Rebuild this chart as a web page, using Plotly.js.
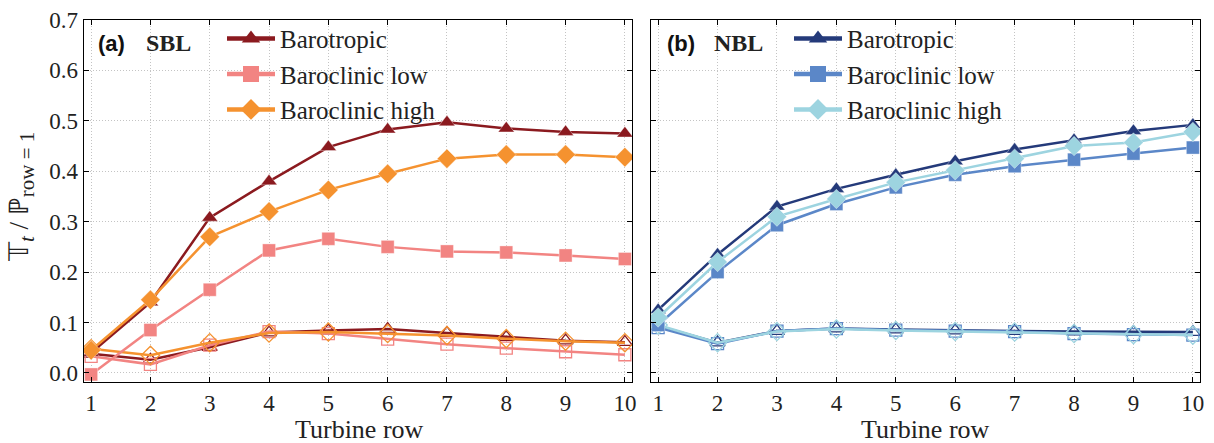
<!DOCTYPE html>
<html>
<head>
<meta charset="utf-8">
<script src="https://cdn.plot.ly/plotly-3.0.1.min.js"></script>
<style>html,body{margin:0;padding:0;background:#fff;}#chart{width:1214px;height:443px;}</style>
</head>
<body>
<div id="chart"></div>
<script>
// ---------- data ----------
const rows = [1, 2, 3, 4, 5, 6, 7, 8, 9, 10];
const seriesNames = ["Barotropic", "Baroclinic low", "Baroclinic high"];

// (a) SBL — filled markers
const sblBarotropic     = [0.040, 0.140, 0.308, 0.380, 0.448, 0.483, 0.497, 0.485, 0.478, 0.475];
const sblBaroclinicLow  = [-0.003, 0.085, 0.165, 0.243, 0.266, 0.250, 0.241, 0.239, 0.233, 0.226];
const sblBaroclinicHigh = [0.045, 0.145, 0.270, 0.320, 0.363, 0.395, 0.425, 0.433, 0.433, 0.428];
// (a) SBL — open markers
const sblBarotropicOpen     = [0.038, 0.026, 0.051, 0.080, 0.084, 0.087, 0.079, 0.071, 0.064, 0.061];
const sblBaroclinicLowOpen  = [0.033, 0.017, 0.055, 0.082, 0.078, 0.067, 0.057, 0.049, 0.042, 0.036];
const sblBaroclinicHighOpen = [0.048, 0.035, 0.060, 0.079, 0.081, 0.078, 0.074, 0.068, 0.063, 0.060];

// (b) NBL — filled markers
const nblBarotropic     = [0.125, 0.235, 0.330, 0.365, 0.393, 0.420, 0.443, 0.462, 0.480, 0.492];
const nblBaroclinicLow  = [0.095, 0.200, 0.293, 0.335, 0.368, 0.393, 0.410, 0.423, 0.435, 0.447];
const nblBaroclinicHigh = [0.110, 0.220, 0.310, 0.345, 0.378, 0.402, 0.425, 0.450, 0.457, 0.478];
// (b) NBL — open markers
const nblBarotropicOpen     = [0.093, 0.060, 0.083, 0.088, 0.086, 0.084, 0.083, 0.082, 0.081, 0.081];
const nblBaroclinicLowOpen  = [0.090, 0.058, 0.083, 0.088, 0.085, 0.083, 0.082, 0.078, 0.076, 0.075];
const nblBaroclinicHighOpen = [0.095, 0.060, 0.082, 0.087, 0.084, 0.082, 0.081, 0.078, 0.076, 0.075];

const yTickVals = [0, 0.1, 0.2, 0.3, 0.4, 0.5, 0.6, 0.7];

// ---------- style ----------
const serif = "Liberation Serif";
const sans = "Liberation Sans";
const sblColors = ["#8B1A1F", "#F28482", "#F5922F"];
const nblColors = ["#243A7A", "#5B87C8", "#9DD4E0"];
const symbols = ["triangle-up", "square", "diamond"];
const sizes = [14, 13, 15];

function filled(y, i, color, xa, ya) {
  return {
    x: rows, y: y, type: "scatter", mode: "lines+markers", name: seriesNames[i],
    xaxis: xa, yaxis: ya, showlegend: false,
    line: {color: color, width: 2.5},
    marker: {symbol: symbols[i], size: sizes[i], color: color, line: {color: "rgba(255,255,255,0.6)", width: 0.6}}
  };
}
function open(y, i, color, xa, ya) {
  return {
    x: rows, y: y, type: "scatter", mode: "lines+markers", name: seriesNames[i] + " (open)",
    xaxis: xa, yaxis: ya, showlegend: false,
    line: {color: color, width: 2.5},
    marker: {symbol: symbols[i] + "-open", size: sizes[i] - 1, color: color, line: {color: color, width: 1.3}}
  };
}
// legend-only entries (no data drawn), so the key can use a thicker line like the original
function key(i, color, xa, ya, legend) {
  return {
    x: [null], y: [null], type: "scatter", mode: "lines+markers", name: seriesNames[i],
    xaxis: xa, yaxis: ya, legend: legend, showlegend: true, hoverinfo: "skip",
    line: {color: color, width: 4.5},
    marker: {symbol: symbols[i], size: 16, color: color}
  };
}

const sblFilled = [sblBarotropic, sblBaroclinicLow, sblBaroclinicHigh];
const sblOpen = [sblBarotropicOpen, sblBaroclinicLowOpen, sblBaroclinicHighOpen];
const nblFilled = [nblBarotropic, nblBaroclinicLow, nblBaroclinicHigh];
const nblOpen = [nblBarotropicOpen, nblBaroclinicLowOpen, nblBaroclinicHighOpen];

const traces = [];
for (let i = 0; i < 3; i++) traces.push(open(sblOpen[i], i, sblColors[i], "x", "y"));
for (let i = 0; i < 3; i++) traces.push(filled(sblFilled[i], i, sblColors[i], "x", "y"));
for (let i = 0; i < 3; i++) traces.push(open(nblOpen[i], i, nblColors[i], "x2", "y2"));
for (let i = 0; i < 3; i++) traces.push(filled(nblFilled[i], i, nblColors[i], "x2", "y2"));
for (let i = 0; i < 3; i++) traces.push(key(i, sblColors[i], "x", "y", "legend"));
for (let i = 0; i < 3; i++) traces.push(key(i, nblColors[i], "x2", "y2", "legend2"));

const W = 1214;
const PH = 362; // plot-area height in px
const gridStyle = {showgrid: true, gridcolor: "#c4c4c4", griddash: "1px,2px", gridwidth: 1};
const xAxisCommon = Object.assign({
  range: [0.88, 10.12], tickvals: rows, ticks: "inside", ticklen: 5, tickcolor: "#000",
  showline: true, linecolor: "#000", linewidth: 1.3, mirror: "ticks",
  zeroline: false, tickfont: {family: serif, size: 23, color: "#222"}
}, gridStyle);
const yAxisCommon = Object.assign({
  range: [-0.018, 0.7], tickvals: yTickVals, tickformat: ".1f", ticks: "inside", ticklen: 5, tickcolor: "#000",
  showline: true, linecolor: "#000", linewidth: 1.3, mirror: "ticks",
  zeroline: false, tickfont: {family: serif, size: 23, color: "#222"}
}, gridStyle);

const legendCommon = {
  xref: "paper", yref: "paper", xanchor: "left", yanchor: "top",
  bgcolor: "rgba(0,0,0,0)", font: {family: serif, size: 25, color: "#222"},
  itemwidth: 48, tracegroupgap: 0
};

const yTitle = "𝕋<sub><span style='font-size:21px'><i>t</i></span></sub> / ℙ<sub><span style='font-size:21px'>row = 1</span></sub>";

const layout = {
  width: W, height: 443,
  margin: {l: 0, r: 0, t: 20, b: 61},
  paper_bgcolor: "#fff", plot_bgcolor: "#fff",
  xaxis: Object.assign({}, xAxisCommon, {domain: [84 / W, 632 / W], anchor: "y"}),
  yaxis: Object.assign({}, yAxisCommon, {anchor: "x"}),
  xaxis2: Object.assign({}, xAxisCommon, {domain: [651 / W, 1200 / W], anchor: "y2"}),
  yaxis2: Object.assign({}, yAxisCommon, {anchor: "x2", showticklabels: false}),
  legend: Object.assign({}, legendCommon, {x: 222 / W, y: 1.012}),
  legend2: Object.assign({}, legendCommon, {x: 789 / W, y: 1.012}),
  showlegend: true,
  annotations: [
    {text: "<b>(a)</b>", xref: "paper", yref: "paper", x: 96 / W, y: (381 - 42) / PH, xanchor: "left", yanchor: "middle", showarrow: false, font: {family: sans, size: 22, color: "#111"}},
    {text: "<b>SBL</b>", xref: "paper", yref: "paper", x: 144 / W, y: (381 - 42) / PH, xanchor: "left", yanchor: "middle", showarrow: false, font: {family: serif, size: 24, color: "#222"}},
    {text: "<b>(b)</b>", xref: "paper", yref: "paper", x: 665 / W, y: (381 - 42) / PH, xanchor: "left", yanchor: "middle", showarrow: false, font: {family: sans, size: 22, color: "#111"}},
    {text: "<b>NBL</b>", xref: "paper", yref: "paper", x: 712 / W, y: (381 - 42) / PH, xanchor: "left", yanchor: "middle", showarrow: false, font: {family: serif, size: 24, color: "#222"}},
    {text: "Turbine row", xref: "paper", yref: "paper", x: 359 / W, y: (381 - 428) / PH, xanchor: "center", yanchor: "middle", showarrow: false, font: {family: serif, size: 26, color: "#222"}},
    {text: "Turbine row", xref: "paper", yref: "paper", x: 925 / W, y: (381 - 428) / PH, xanchor: "center", yanchor: "middle", showarrow: false, font: {family: serif, size: 26, color: "#222"}},
    {text: yTitle, xref: "paper", yref: "paper", x: 21 / W, y: (381 - 196) / PH, xanchor: "center", yanchor: "middle", textangle: -90, showarrow: false, font: {family: serif, size: 27, color: "#222"}}
  ]
};

Plotly.newPlot("chart", traces, layout, {displayModeBar: false, staticPlot: true});
</script>
</body>
</html>
